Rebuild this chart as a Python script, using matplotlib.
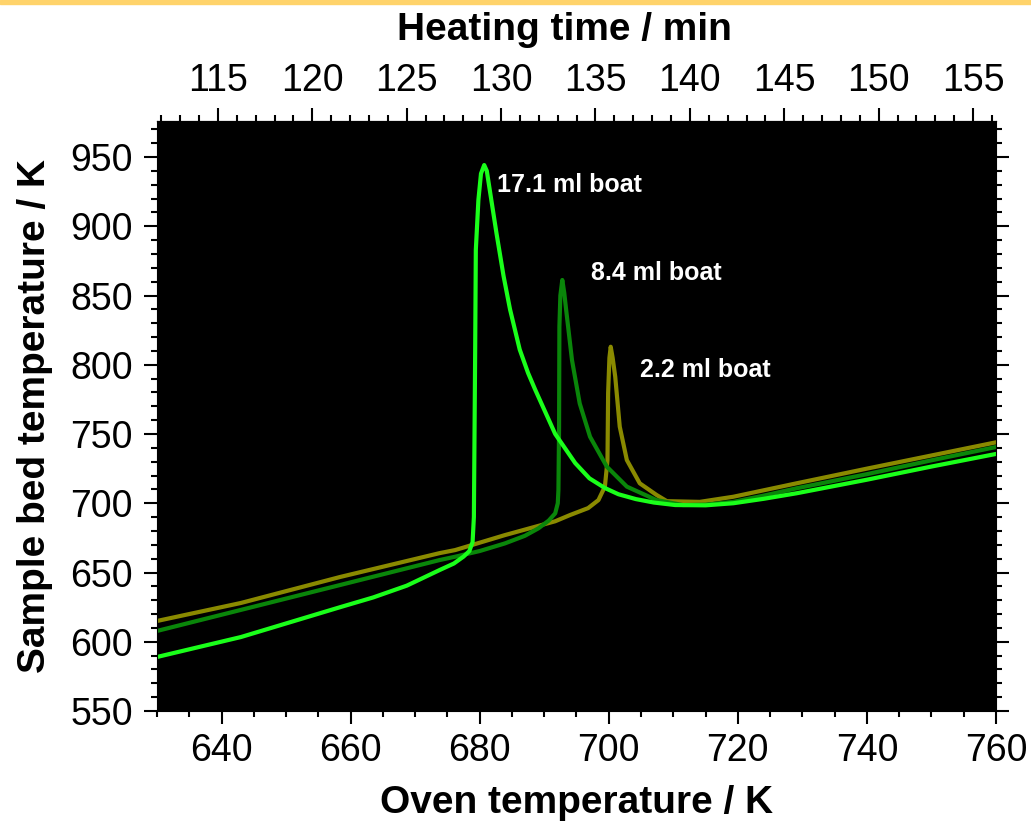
import matplotlib
matplotlib.use("Agg")
import matplotlib.pyplot as plt
from matplotlib.patches import Rectangle
from matplotlib.ticker import FixedLocator, MultipleLocator

plt.rcParams["font.family"] = ["Liberation Sans", "DejaVu Sans"]

# oven temperature (K) vs sample bed temperature (K)
boat17_x = [630, 643, 658.4, 663.5, 668.7, 673.8, 676.0, 677.5, 678.4, 678.9, 679.1,
            679.3, 679.4, 679.8, 680.2, 680.7, 681.1, 681.6, 682.6, 683.7, 684.7,
            686.2, 687.5, 688.6, 691.7, 694.8, 697.0, 699.4, 701.5, 704.2, 707.0,
            710.3, 715.0, 719.3, 724.0, 729.1, 740.0, 750.0, 760.0]
boat17_y = [589, 603.4, 625, 632, 640.5, 651.8, 656.5, 661.5, 665.5, 672, 690,
            810.6, 882.9, 919, 938, 944.2, 940, 925, 895, 864, 840,
            811, 794, 782, 750, 729, 718, 711, 706.5, 703, 700.5,
            698.7, 698.5, 700, 703.2, 707.2, 717, 726.5, 735.6]

boat8_x = [630, 643, 658.4, 673.8, 676.2, 680.0, 683.9, 687.0, 689.1, 690.7, 691.7,
           692.1, 692.2, 692.3, 692.35, 692.5, 692.8, 693.1, 693.4, 694.3, 695.5,
           697.1, 699.7, 702.8, 707.4, 711.5, 715.0, 719.3, 724.0, 729.1, 740.0,
           750.0, 760.0]
boat8_y = [607.8, 623, 641, 659, 661.4, 665.5, 671, 676.5, 681.9, 687.5, 692.7,
           700, 709.6, 755, 827.5, 850, 861.2, 852, 839.5, 803.4, 772,
           748, 726.4, 712, 702.3, 698.7, 699, 701, 705.5, 710.8, 721,
           731, 740.6]

boat2_x = [630, 643, 658.4, 673.8, 676.2, 683.9, 691.7, 694.0, 696.8, 698.4, 698.9,
           699.4, 699.8, 699.9, 700.1, 700.3, 700.6, 701.0, 701.7, 702.8, 704.8,
           707.4, 709.0, 714.1, 719.3, 729.1, 740.0, 750.0, 760.0]
boat2_y = [615, 628, 646.8, 664, 666.2, 677, 687, 691.5, 696.5, 702.3, 707.2,
           712, 731, 779.4, 805, 813, 805, 791.4, 755.3, 731.2, 714.4,
           706, 701.5, 701, 704.7, 714.4, 725, 734.5, 744]

labels = ["17.1 ml boat", "8.4 ml boat", "2.2 ml boat"]
label_pos = [(682.7, 930), (697.2, 866), (704.8, 796)]

time_ticks = [115, 120, 125, 130, 135, 140, 145, 150, 155]

# heating time axis: linear map from oven temperature
T0, t0, rate = 630.0, 111.77, 0.3419


def to_time(T):
    return t0 + (T - T0) * rate


def to_temp(t):
    return T0 + (t - t0) / rate


fig = plt.figure(figsize=(10.31, 8.22), dpi=100)
ax = fig.add_axes([157 / 1031, 1 - 711 / 822, (996 - 157) / 1031, (711 - 121) / 822])
ax.set_facecolor("black")

ax.plot(boat2_x, boat2_y, color="#8a8a00", lw=3, solid_joinstyle="round")
ax.plot(boat8_x, boat8_y, color="#0a860a", lw=3, solid_joinstyle="round")
ax.plot(boat17_x, boat17_y, color="#1aff1a", lw=3, solid_joinstyle="round")

for text, (x, y) in zip(labels, label_pos):
    ax.text(x, y, text, color="white", fontsize=18, fontweight="bold", va="center")

ax.set_xlim(630, 760)
ax.set_ylim(550, 976)
ax.xaxis.set_major_locator(MultipleLocator(20))
ax.xaxis.set_minor_locator(MultipleLocator(5))
ax.yaxis.set_major_locator(MultipleLocator(50))
ax.yaxis.set_minor_locator(MultipleLocator(10))
ax.tick_params(which="both", direction="out", width=1.5, labelsize=27,
               right=True, top=False)
ax.tick_params(which="major", length=9.5)
ax.tick_params(which="minor", length=4.5)
ax.tick_params(axis="x", which="major", pad=6)
ax.tick_params(axis="y", which="major", pad=8)
ax.set_xlabel("Oven temperature / K", fontsize=28, fontweight="bold", labelpad=12)
ax.set_ylabel("Sample bed temperature / K", fontsize=28, fontweight="bold", labelpad=12)

top = ax.secondary_xaxis("top", functions=(to_time, to_temp))
top.xaxis.set_major_locator(FixedLocator(time_ticks))
top.xaxis.set_minor_locator(FixedLocator(range(112, 157)))
top.tick_params(which="both", direction="out", width=1.5, labelsize=27)
top.tick_params(which="major", length=9.5, pad=6)
top.tick_params(which="minor", length=4.5)
top.set_xlabel("Heating time / min", fontsize=28, fontweight="bold", labelpad=17,
               x=0.486)

fig.patches.append(Rectangle((0, 1 - 4 / 822), 1, 4 / 822, transform=fig.transFigure,
                             color="#ffd36b", zorder=0))

fig.savefig("out.png", dpi=100)
